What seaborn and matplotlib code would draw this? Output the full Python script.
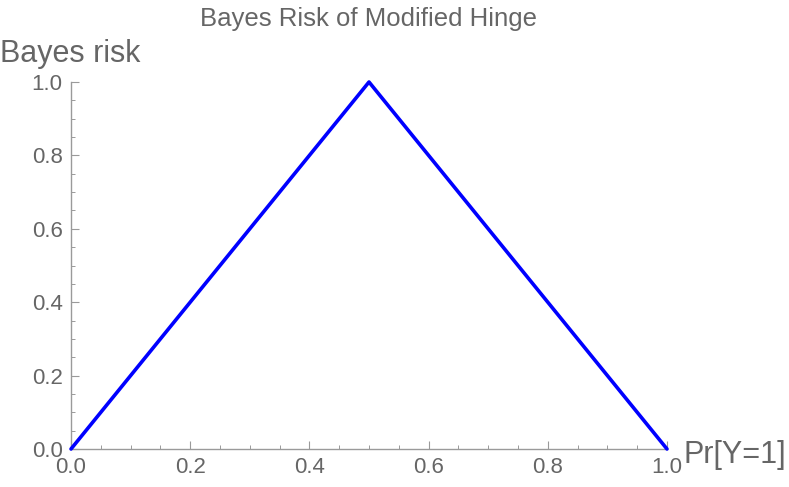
import numpy as np
import pandas as pd
import matplotlib
matplotlib.use("Agg")
import matplotlib.pyplot as plt
import seaborn as sns
from matplotlib.ticker import MultipleLocator

# Bayes risk of the modified hinge loss as a function of Pr[Y=1]
p_values = [0.0, 0.5, 1.0]
risk_values = [0.0, 1.0, 0.0]
tick_values = [0.0, 0.2, 0.4, 0.6, 0.8, 1.0]

TEXT = "#666666"
AXIS = "#9a9a9a"

def main():
    sns.set_style("white")
    plt.rcParams["font.family"] = ["Liberation Sans", "DejaVu Sans"]

    df = pd.DataFrame({"p": p_values, "risk": risk_values})

    fig = plt.figure(figsize=(7.89, 4.87), dpi=100)
    ax = fig.add_axes([71 / 789, 1 - 449 / 487, 596 / 789, 367 / 487])

    sns.lineplot(data=df, x="p", y="risk", ax=ax, color="#0000ff",
                 linewidth=2.6, clip_on=False, zorder=5)

    ax.set_xlim(0, 1)
    ax.set_ylim(0, 1)
    ax.set_xlabel("")
    ax.set_ylabel("")

    # === Mathematica-like axes: left/bottom only, inward ticks ===
    for side in ["top", "right"]:
        ax.spines[side].set_visible(False)
    for side in ["left", "bottom"]:
        ax.spines[side].set_color(AXIS)
        ax.spines[side].set_linewidth(1.0)

    ax.set_xticks(tick_values)
    ax.set_yticks(tick_values)
    ax.set_xticklabels([f"{t:.1f}" for t in tick_values])
    ax.set_yticklabels([f"{t:.1f}" for t in tick_values])
    ax.xaxis.set_minor_locator(MultipleLocator(0.05))
    ax.yaxis.set_minor_locator(MultipleLocator(0.05))
    ax.tick_params(which="major", direction="in", length=5.5, width=0.8,
                   color=AXIS, labelcolor=TEXT, labelsize=16, pad=6,
                   bottom=True, left=True)
    ax.tick_params(which="minor", direction="in", length=3, width=0.7,
                   color=AXIS, bottom=True, left=True)

    # title and axis labels placed like Mathematica's PlotLabel / AxesLabel
    fig.text(369 / 789, 1 - 26 / 487, "Bayes Risk of Modified Hinge",
             color=TEXT, fontsize=18.5, ha="center", va="baseline")
    fig.text(0.0, 1 - 62 / 487, "Bayes risk", color=TEXT, fontsize=22,
             ha="left", va="baseline")
    fig.text(683 / 789, 1 - 463 / 487, "Pr[Y=1]", color=TEXT, fontsize=22,
             ha="left", va="baseline")

    fig.savefig("out.png", dpi=100)

if __name__ == "__main__":
    main()
